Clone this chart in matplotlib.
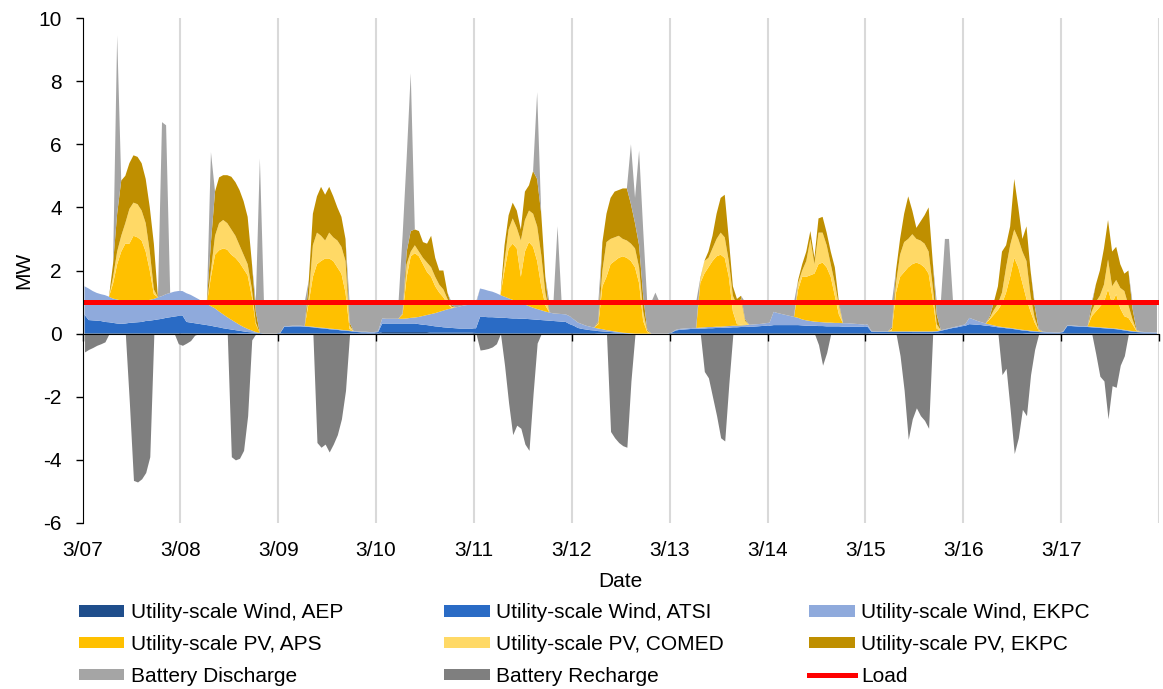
import matplotlib
matplotlib.use("Agg")
import matplotlib.pyplot as plt
import numpy as np
from matplotlib.patches import Patch
from matplotlib.lines import Line2D

plt.rcParams['font.family'] = ['Liberation Sans', 'DejaVu Sans']
plt.rcParams['axes.unicode_minus'] = False

# ---------------- data (hourly, MW), one row per day 3/07 ... 3/17 ----------------
DATE_LABELS = ['3/07', '3/08', '3/09', '3/10', '3/11', '3/12', '3/13', '3/14', '3/15', '3/16', '3/17']
LOAD_MW = 1.0

wind_aep = [
    .02,.02,.02,.02,.02,.02, .02,.02,.02,.02,.02,.02, .02,.02,.02,.02,.02,.02, .02,.02,.02,.02,.02,.02,
    .02,.02,.02,.02,.02,.02, .02,.02,.02,.02,.02,.02, .02,.02,.01,.01,.01,.01, .01,.01,0,0,0,0,
    .01,.02,.02,.02,.02,.02, .02,.02,.02,.02,.02,.02, .02,.02,.02,.02,.01,.01, .01,.01,.01,.01,.01,.01,
    .01,.05,.05,.05,.05,.05, .05,.05,.05,.05,.05,.05, .05,.03,.03,.03,.03,.03, .03,.03,.03,.03,.03,.03,
    .02,.02,.02,.02,.02,.02, .02,.02,.02,.02,.02,.02, .02,.02,.02,.02,.02,.02, .02,.02,.02,.02,.02,.02,
    .02,.02,.02,.02,.02,.02, .01,.01,.01,.01,.01,.01, .01,0,0,0,0,0, 0,0,0,0,0,0,
    .01,.02,.02,.02,.02,.02, .02,.02,.02,.02,.02,.02, .02,.02,.02,.02,.02,.02, .02,.02,.02,.02,.02,.02,
    .02,.02,.02,.02,.02,.02, .02,.02,.02,.02,.02,.02, .02,.02,.02,.02,.02,.02, .02,.02,.02,.02,.02,.02,
    .02,.01,.01,.01,.01,.01, .01,.01,.01,.01,.01,.01, .01,.01,.01,.01,.01,.01, .01,.02,.02,.02,.02,.02,
    .02,.02,.02,.02,.02,.02, .02,.02,.02,.02,.02,.02, .02,.02,.02,.01,.01,.01, .01,.01,.01,.01,.01,.01,
    .01,.02,.02,.02,.02,.02, .02,.02,.02,.02,.02,.02, .02,.02,.02,.02,.01,.01, .01,.01,.01,.01,.01,.01,
]
wind_atsi = [
    .58,.41,.40,.39,.38,.35, .34,.32,.30,.29,.30,.32, .33,.34,.35,.38,.39,.41, .43,.45,.48,.50,.52,.54,
    .56,.35,.33,.31,.29,.27, .25,.23,.20,.18,.15,.13, .11,.09,.08,.06,.04,.03, .02,.01,0,0,0,0,
    .01,.20,.20,.21,.21,.21, .20,.19,.18,.16,.15,.14, .12,.11,.10,.08,.08,.07, .05,.04,.03,.03,.02,.02,
    .04,.27,.27,.27,.27,.27, .27,.27,.27,.27,.25,.23, .22,.22,.20,.19,.17,.16, .15,.14,.13,.13,.13,.13,
    .15,.51,.51,.50,.50,.49, .48,.48,.47,.46,.46,.45, .45,.44,.43,.42,.41,.40, .39,.38,.37,.36,.35,.28,
    .23,.16,.13,.11,.09,.08, .07,.06,.05,.04,.03,.02, .01,.01,0,0,0,0, 0,0,0,0,0,0,
    .02,.08,.10,.11,.12,.13, .13,.14,.14,.15,.15,.16, .16,.17,.17,.18,.18,.19, .19,.20,.20,.21,.22,.23,
    .23,.25,.25,.25,.25,.25, .25,.25,.24,.23,.23,.23, .22,.22,.21,.21,.21,.21, .20,.20,.20,.20,.20,.20,
    .20,.05,.05,.05,.05,.05, .05,.05,.05,.05,.05,.04, .04,.04,.04,.04,.04,.05, .08,.10,.13,.16,.18,.21,
    .23,.28,.27,.26,.25,.23, .22,.20,.18,.17,.15,.14, .12,.10,.08,.08,.06,.05, .04,.03,.02,.02,.01,.01,
    .04,.22,.22,.21,.20,.20, .19,.18,.17,.16,.15,.14, .13,.12,.10,.08,.07,.05, .04,.03,.02,.02,.01,.01,
]
wind_ekpc = [
    .90,1.00,.93,.88,.85,.85, .81,.77,.76,.74,.73,.71, .70,.69,.68,.65,.66,.67, .70,.72,.75,.77,.79,.79,
    .77,.91,.88,.83,.78,.72, .67,.62,.58,.50,.44,.37, .31,.25,.19,.14,.10,.06, .02,0,0,0,0,0,
    .01,.02,.02,.02,.02,.02, .02,.02,.02,.02,.02,.02, .02,.02,.02,.02,.02,.02, .02,.02,.02,.02,.02,.02,
    .03,.16,.15,.15,.15,.15, .15,.16,.18,.19,.23,.28, .32,.37,.42,.47,.53,.58, .62,.66,.70,.73,.75,.77,
    .76,.90,.87,.84,.81,.77, .72,.67,.63,.59,.54,.50, .45,.41,.37,.34,.31,.28, .26,.24,.24,.24,.24,.25,
    .20,.17,.15,.12,.11,.09, .08,.07,.05,.04,.03,.02, .01,.01,.01,0,0,0, 0,0,0,0,0,0,
    .01,.02,.03,.03,.03,.03, .03,.03,.04,.04,.04,.04, .04,.04,.05,.05,.05,.05, .06,.06,.07,.07,.07,.08,
    .10,.42,.38,.35,.32,.29, .26,.23,.19,.17,.15,.13, .13,.12,.12,.12,.11,.11, .11,.11,.10,.09,.08,.07,
    .07,.02,.01,.01,.01,.01, .01,.01,.01,.01,.01,.02, .02,.02,.02,.02,.02,.02, .02,.02,.02,.02,.03,.03,
    .05,.20,.16,.12,.09,.07, .05,.04,.03,.02,.02,.02, .02,.02,.02,.02,.02,.02, .02,.02,.02,.02,.02,.02,
    .02,.02,.02,.02,.02,.02, .02,.02,.02,.02,.02,.02, .02,.02,.02,.02,.02,.02, .02,.02,.02,.02,.02,.02,
]
pv_aps = [
    0,0,0,0,0,0, 0,.48,1.12,1.55,1.80,1.80, 2.05,2.00,1.90,1.55,.93,.15, 0,0,0,0,0,0,
    0,0,0,0,0,0, .02,.93,1.70,1.94,2.09,2.14, 2.06,2.04,1.97,1.84,1.70,1.10, .25,0,0,0,0,0,
    0,0,0,0,0,0, 0,.77,1.58,2.00,2.11,2.20, 2.22,2.15,1.96,1.78,1.19,.05, 0,0,0,0,0,0,
    0,0,0,0,0,0, .13,1.32,1.95,2.04,1.92,1.64, 1.36,1.18,.85,.61,.42,.18, .02,0,0,0,0,0,
    0,0,0,0,0,0, 0,.83,1.58,1.78,1.68,.83, 1.68,2.03,1.93,1.52,.76,.20, 0,0,0,0,0,0,
    0,0,0,0,0,0, .14,1.36,1.69,2.11,2.23,2.35, 2.42,2.38,2.29,2.10,1.60,.40, .05,0,0,0,0,0,
    0,0,0,0,0,0, 0,1.41,1.70,1.89,2.09,2.23, 2.28,2.17,1.56,.45,.05,.02, 0,0,0,0,0,0,
    0,0,0,0,0,0, 0,.90,1.35,1.38,1.45,1.52, 1.83,1.89,1.75,1.45,.86,.26, 0,0,0,0,0,0,
    0,0,0,0,0,0, .03,1.23,1.73,1.88,2.03,2.13, 2.18,2.13,2.03,1.83,1.03,.07, 0,0,0,0,0,0,
    0,0,0,0,0,0, .16,.34,.52,.74,1.11,1.62, 2.24,1.96,1.48,.99,.61,.27, .03,0,0,0,0,0,
    0,0,0,0,0,0, 0,.33,.49,.65,.81,1.22, .78,1.09,.66,.43,.40,.22, .01,0,0,0,0,0,
]
pv_comed = [
    0,0,0,0,0,0, 0,.21,.40,.50,.65,1.10, 1.05,1.05,.95,.90,.60,.15, 0,0,0,0,0,0,
    0,0,0,0,0,0, .01,.20,.60,.86,.90,.84, .80,.70,.55,.45,.35,.25, .05,0,0,0,0,0,
    0,0,0,0,0,0, 0,.20,1.00,1.00,.80,.57, .82,.75,.85,.85,1.00,.10, 0,0,0,0,0,0,
    0,0,0,0,0,0, .02,.40,.15,.25,.15,.20, .30,.30,.30,.25,.25,.15, .03,0,0,0,0,0,
    0,0,0,0,0,0, 0,.30,.60,.80,.65,1.15, 1.00,1.00,1.05,1.10,1.00,.40, 0,0,0,0,0,0,
    0,0,0,0,0,0, .05,.50,1.10,.80,.75,.70, .55,.55,.55,.60,.50,.30, .03,0,0,0,0,0,
    0,0,0,0,0,0, 0,.10,.40,.30,.40,.55, .70,.65,.50,.50,.60,.82, .13,0,0,0,0,0,
    0,0,0,0,0,0, 0,.20,.20,.50,1.15,.30, 1.00,.95,.70,.40,.40,.30, 0,0,0,0,0,0,
    0,0,0,0,0,0, .05,.30,.70,.95,.90,.95, .75,.75,.75,.70,.40,.15, 0,0,0,0,0,0,
    0,0,0,0,0,0, .05,.15,.20,.35,.80,1.00, .90,.90,1.00,1.20,.50,.15, .02,0,0,0,0,0,
    0,0,0,0,0,0, 0,.15,.30,.35,.55,.95, .55,.45,.65,.80,.40,.15, .02,0,0,0,0,0,
]
pv_ekpc = [
    0,0,0,0,0,0, 0,.42,1.20,1.75,1.50,1.45, 1.50,1.50,1.50,1.40,1.40,1.45, 0,0,0,0,0,0,
    0,0,0,0,0,0, .03,.90,1.40,1.45,1.42,1.52, 1.67,1.70,1.75,1.70,1.50,.85, .35,0,0,0,0,0,
    0,0,0,0,0,0, 0,.50,1.00,1.15,1.55,1.45, 1.45,1.30,1.05,.95,.70,.10, 0,0,0,0,0,0,
    0,0,0,0,0,0, .03,.40,.65,.50,.65,.50, .60,1.00,.60,.45,.60,.20, .05,0,0,0,0,0,
    0,0,0,0,0,0, 0,.50,.45,.50,.55,.35, .90,.80,1.35,1.50,1.30,.50, 0,0,0,0,0,0,
    0,0,0,0,0,0, .05,.90,.90,1.30,1.45,1.45, 1.60,1.65,1.25,.80,.70,.50, .04,0,0,0,0,0,
    0,0,0,0,0,0, 0,.05,0,.20,.40,.80, 1.10,1.35,.70,.30,.20,.10, .05,0,0,0,0,0,
    0,0,0,0,0,0, 0,.10,.20,.30,.25,.20, .45,.50,.40,.40,.50,.10, 0,0,0,0,0,0,
    0,0,0,0,0,0, .05,.40,.50,.90,1.35,.75, .35,.60,.90,1.40,.80,.30, 0,0,0,0,0,0,
    0,0,0,0,0,0, .05,.25,.55,1.30,.70,.60, 1.60,1.00,.40,1.10,.80,.40, .03,0,0,0,0,0,
    0,0,0,0,0,0, 0,.20,.55,.80,1.15,1.25, 1.10,1.05,.75,.55,1.10,.35, .02,0,0,0,0,0,
]
battery_discharge = [
    0,0,0,0,0,0, 0,0,5.65,0,0,0, 0,0,0,0,0,0, 0,5.51,5.35,0,0,0,
    0,0,0,0,0,0, 0,2.85,0,0,0,0, 0,0,0,0,0,0, .30,5.53,1.00,1.00,1.00,1.00,
    .97,.76,.76,.75,.75,.75, .76,0,0,0,0,0, 0,0,0,0,0,.65, .92,.93,.94,.94,.95,.95,
    .92,.52,.53,.53,.53,.53, 2.45,2.97,5.00,0,0,0, 0,0,0,0,0,0, .10,.17,.14,.11,.09,.07,
    .07,0,0,0,0,0, 0,0,0,0,0,0, 0,0,0,2.75,0,0, .33,.36,2.77,.38,.39,.45,
    .55,.65,.70,.75,.78,.81, .60,0,0,0,0,0, 0,0,1.90,.80,3.00,2.10, .88,1.00,1.30,1.00,1.00,1.00,
    .96,.88,.85,.84,.83,.82, .82,0,0,0,0,0, 0,0,0,0,0,0, .55,.72,.71,.70,.69,.67,
    .65,.31,.35,.38,.41,.44, .47,0,0,0,0,0, 0,0,0,0,0,0, .67,.67,.68,.69,.70,.71,
    .71,.92,.93,.93,.93,.93, .80,0,0,0,0,0, 0,0,0,0,0,.40, .89,2.86,2.83,.80,.77,.74,
    .70,.50,.55,.60,.64,.68, .45,0,0,0,0,0, 0,0,0,0,0,.10, .85,.94,.95,.95,.96,.96,
    .93,.74,.74,.75,.76,.76, .77,.10,0,0,0,0, 0,0,0,0,0,.20, .88,.94,.95,.95,.96,.96,
]
battery_recharge = [
    -.58,-.50,-.44,-.37,-.32,-.26, 0,0,0,0,0,-2.20, -4.65,-4.70,-4.60,-4.40,-3.90,0, 0,0,0,0,0,-.32,
    -.37,-.30,-.22,-.05,0,0, 0,0,0,0,0,0, -3.90,-4.00,-3.95,-3.70,-2.60,-.20, 0,0,0,0,0,0,
    0,0,0,0,0,0, 0,0,0,-3.45,-3.60,-3.50, -3.75,-3.50,-3.20,-2.70,-1.80,0, 0,0,0,0,0,0,
    0,0,0,0,0,0, 0,0,0,0,0,0, 0,0,0,0,0,0, 0,0,0,0,0,0,
    0,-.52,-.50,-.47,-.42,-.32, 0,-1.00,-2.20,-3.20,-2.90,-3.00, -3.50,-3.70,-1.90,-.30,0,0, 0,0,0,0,0,0,
    0,0,0,0,0,0, 0,0,0,-3.10,-3.30,-3.45, -3.55,-3.60,-1.50,0,0,0, 0,0,0,0,0,0,
    0,0,0,0,0,0, 0,0,-1.20,-1.40,-2.00,-2.60, -3.30,-3.40,-1.60,0,0,0, 0,0,0,0,0,0,
    0,0,0,0,0,0, 0,0,0,0,0,0, -.35,-1.00,-.60,0,0,0, 0,0,0,0,0,0,
    0,0,0,0,0,0, 0,0,-.70,-1.80,-3.35,-2.70, -2.35,-2.60,-2.75,-3.00,0,0, 0,0,0,0,0,0,
    0,0,0,0,0,0, 0,0,0,-1.30,-1.10,-2.40, -3.80,-3.30,-2.40,-2.60,-1.30,-.50, 0,0,0,0,0,0,
    0,0,0,0,0,0, 0,0,-.65,-1.35,-1.50,-2.70, -1.65,-1.70,-1.00,-.70,0,0, 0,0,0,0,0,0,
]

SERIES_LABELS = ['Utility-scale Wind, AEP', 'Utility-scale Wind, ATSI', 'Utility-scale Wind, EKPC',
                 'Utility-scale PV, APS', 'Utility-scale PV, COMED', 'Utility-scale PV, EKPC',
                 'Battery Discharge', 'Battery Recharge', 'Load']
COLORS = ['#1F4E8C', '#2A6BC5', '#8FAADC', '#FFC000', '#FFD966', '#BF8F00',
          '#A5A5A5', '#7F7F7F', '#FF0000']

n = len(wind_aep)
for s in (wind_atsi, wind_ekpc, pv_aps, pv_comed, pv_ekpc, battery_discharge, battery_recharge):
    assert len(s) == n, len(s)

x = (np.arange(n) + 0.5) / 24.0  # days since 3/07 00:00

# ---------------- figure ----------------
W, H = 1163, 689
fig = plt.figure(figsize=(W / 100, H / 100), dpi=100)
L, R, T, B = 82.5, 1159, 18, 523
ax = fig.add_axes([L / W, 1 - B / H, (R - L) / W, (B - T) / H])

ax.stackplot(x, wind_aep, wind_atsi, wind_ekpc, pv_aps, pv_comed, pv_ekpc, battery_discharge,
             colors=COLORS[:7], linewidth=0, zorder=2)
ax.fill_between(x, battery_recharge, 0, color=COLORS[7], linewidth=0, zorder=2)
ax.axhline(LOAD_MW, color=COLORS[8], lw=3.6, zorder=4)

ax.set_xlim(0, 11)
ax.set_ylim(-6, 10)
ax.set_yticks(range(-6, 11, 2))
ax.set_xticks(range(12))
ax.set_xticklabels([])
ax.spines['bottom'].set_position(('data', 0))
ax.spines['bottom'].set_zorder(5)
ax.spines['left'].set_zorder(5)
for sp in ('top', 'right'):
    ax.spines[sp].set_visible(False)
ax.tick_params(axis='x', direction='out', length=5, width=1, labelbottom=False)
ax.tick_params(axis='y', direction='out', length=5, width=1, labelsize=15, pad=10)
ax.grid(axis='x', color='#D9D9D9', lw=1.5, zorder=0)
ax.set_axisbelow(True)

sec = ax.secondary_xaxis('bottom')
sec.set_xticks(range(11), labels=DATE_LABELS)
sec.tick_params(length=0, pad=13, labelsize=15)
sec.spines['bottom'].set_visible(False)

ax.set_xlabel('Date', fontsize=15)
ax.xaxis.set_label_coords(0.5, -0.098)
ax.set_ylabel('MW', fontsize=15)
ax.yaxis.set_label_coords(-0.046, 0.5)

# ---------------- legend (3 columns, row-major like the original) ----------------
handles = [Patch(facecolor=c, edgecolor='none') for c in COLORS[:8]]
handles.append(Line2D([], [], color=COLORS[8], lw=3.6))
col_x = [78.5, 444, 809]
for ci in range(3):
    idx = [ci, ci + 3, ci + 6]
    fig.legend([handles[i] for i in idx], [SERIES_LABELS[i] for i in idx],
               loc='upper left', bbox_to_anchor=(col_x[ci] / W, 1 - 603 / H),
               frameon=False, fontsize=15, handlelength=2.2, handleheight=0.5,
               handletextpad=0.3, labelspacing=0.62, borderpad=0, borderaxespad=0)

fig.savefig('out.png', dpi=100)
